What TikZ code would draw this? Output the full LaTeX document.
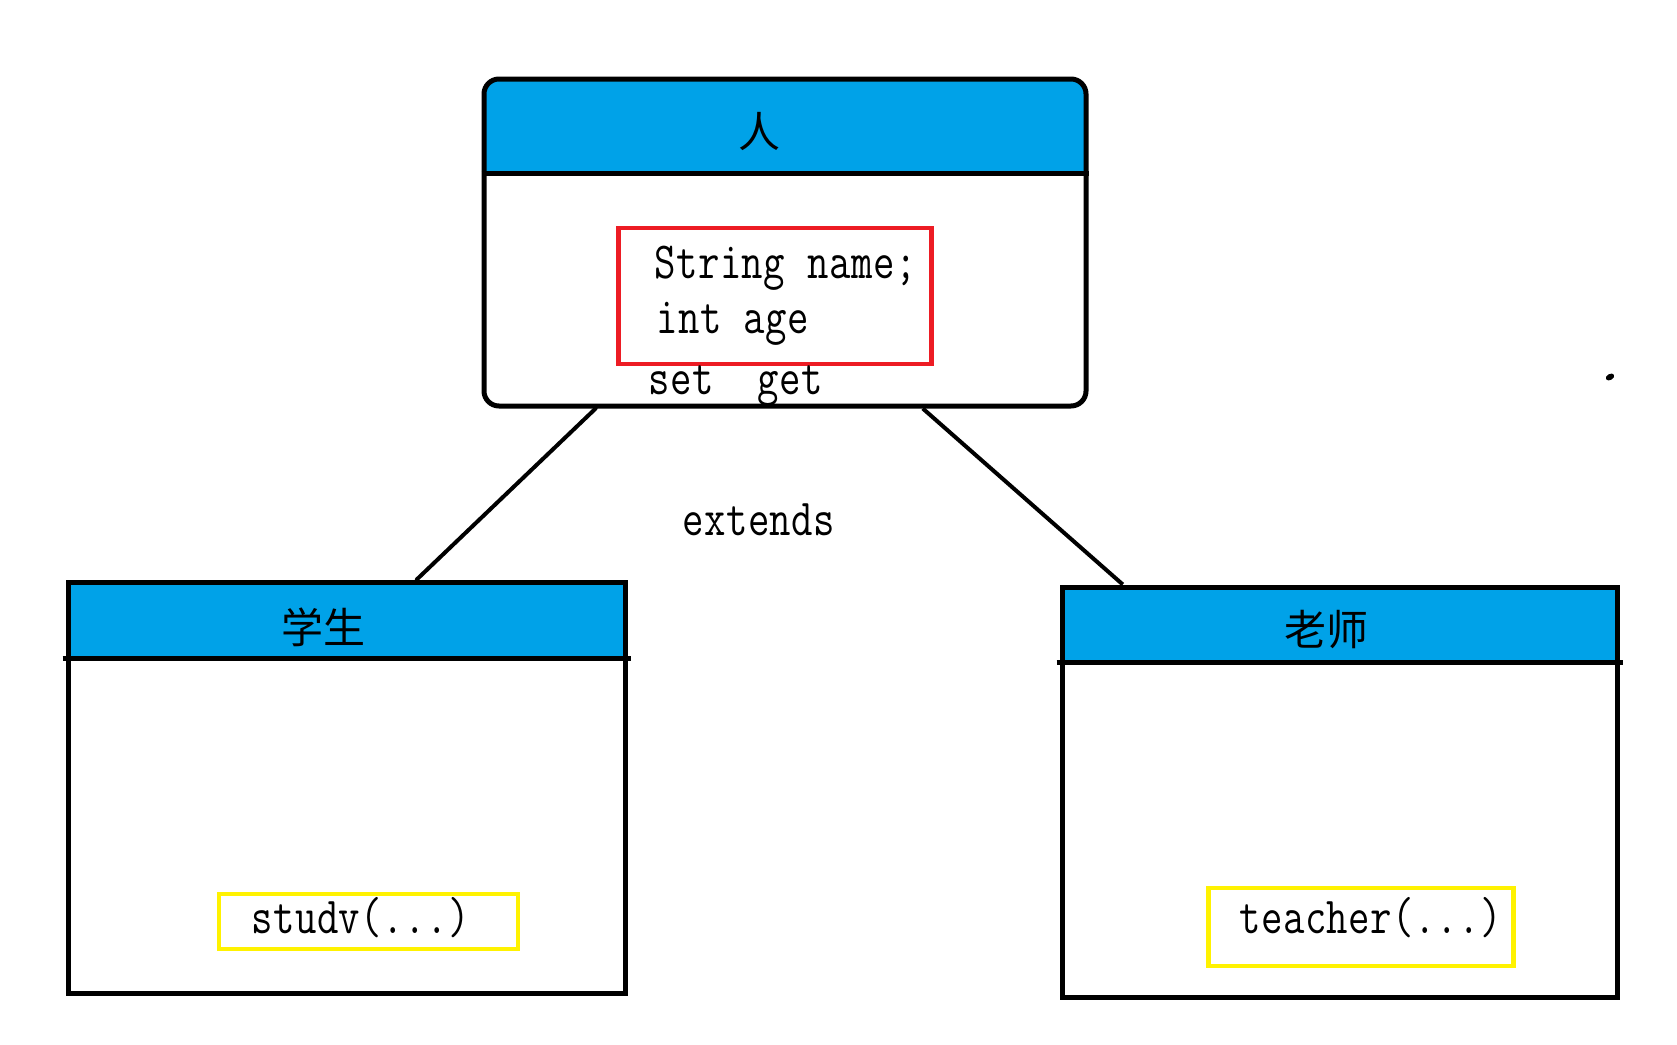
\documentclass[tikz,border=0pt]{standalone}
\usepackage{fontspec}
\usetikzlibrary{calc}
\newfontfamily\cjk{Noto Sans CJK SC}
\newfontfamily\codefont[FakeStretch=0.80,LetterSpace=1]{Latin Modern Mono}
\definecolor{hdrblue}{HTML}{00A2E8}
\definecolor{boxred}{HTML}{ED1C24}
\definecolor{boxyellow}{HTML}{FFF200}
\tikzset{
  classbox/.style={draw=black, line width=5pt, rectangle, inner sep=0pt},
  code/.style={anchor=base west, inner sep=0pt, font=\codefont\fontsize{52}{60}\selectfont},
  title/.style={inner sep=0pt, font=\cjk\fontsize{42}{50}\selectfont},
  conn/.style={draw=black, line width=4pt},
  redbox/.style={draw=boxred, line width=4.5pt, rectangle, inner sep=0pt},
  yellowbox/.style={draw=boxyellow, line width=4.5pt, rectangle, inner sep=0pt},
}
\begin{document}
\begin{tikzpicture}[x=1pt,y=-1pt]
\useasboundingbox (0,0) rectangle (1677,1044);
% ---------- top class: person ----------
\fill[hdrblue, rounded corners=15pt] (484,173) -- (484,79) -- (1086,79) -- (1086,173) -- cycle;
\fill[hdrblue] (484,140) rectangle (1086,173);
\node[classbox, rounded corners=15pt, minimum width=602pt, minimum height=327pt] (person) at (785,242.5) {};
\draw[line width=5pt] (person.west |- 0,173) coordinate (ph1) -- (person.east |- 0,173) coordinate (ph2);
\node[title] (ren) at (759,132) {人};
\node[redbox, minimum width=313pt, minimum height=136pt] (attrs) at (775,296) {};
\node[code] (l1) at (654,278) {String name;};
\node[code] (l2) at (656,333) {int age};
\node[code] (l3) at (648,394) {set\ \ get};
% ---------- left class: student ----------
\fill[hdrblue] (68,582) rectangle (625,658);
\node[classbox, minimum width=557pt, minimum height=411pt] (stu) at (346.5,787.5) {};
\draw[line width=5pt] ([xshift=-3pt]stu.west |- 0,658) -- ([xshift=3pt]stu.east |- 0,658);
\node[title] (xs) at (323,627) {学生};
\node[yellowbox, minimum width=299pt, minimum height=55pt] (m1) at (368.5,921.5) {};
\node[code] (t1) at (251,933) {studv(...)};
% ---------- right class: teacher ----------
\fill[hdrblue] (1062,587) rectangle (1617,662);
\node[classbox, minimum width=555pt, minimum height=410pt] (tea) at (1339.5,792) {};
\draw[line width=5pt] ([xshift=-3pt]tea.west |- 0,662) -- ([xshift=3pt]tea.east |- 0,662);
\node[title] (ls) at (1326,630) {老师};
\node[yellowbox, minimum width=305pt, minimum height=78pt] (m2) at (1361,927) {};
\node[code] (t2) at (1239,933) {teacher(...)};
% ---------- connectors ----------
\draw[conn, line cap=round] ($(person.south west)!0.188!(person.south east)$) -- ($(stu.north west)!0.625!(stu.north east)$);
\draw[conn] ($(person.south west)!0.727!(person.south east)$) -- ($(tea.north west)!0.113!(tea.north east)$);
\node[code] (ext) at (682,535) {extends};
% stray dot
\fill[rotate around={30:(1610,377)}] (1610,377) ellipse (4.5pt and 3pt);
\end{tikzpicture}
\end{document}
